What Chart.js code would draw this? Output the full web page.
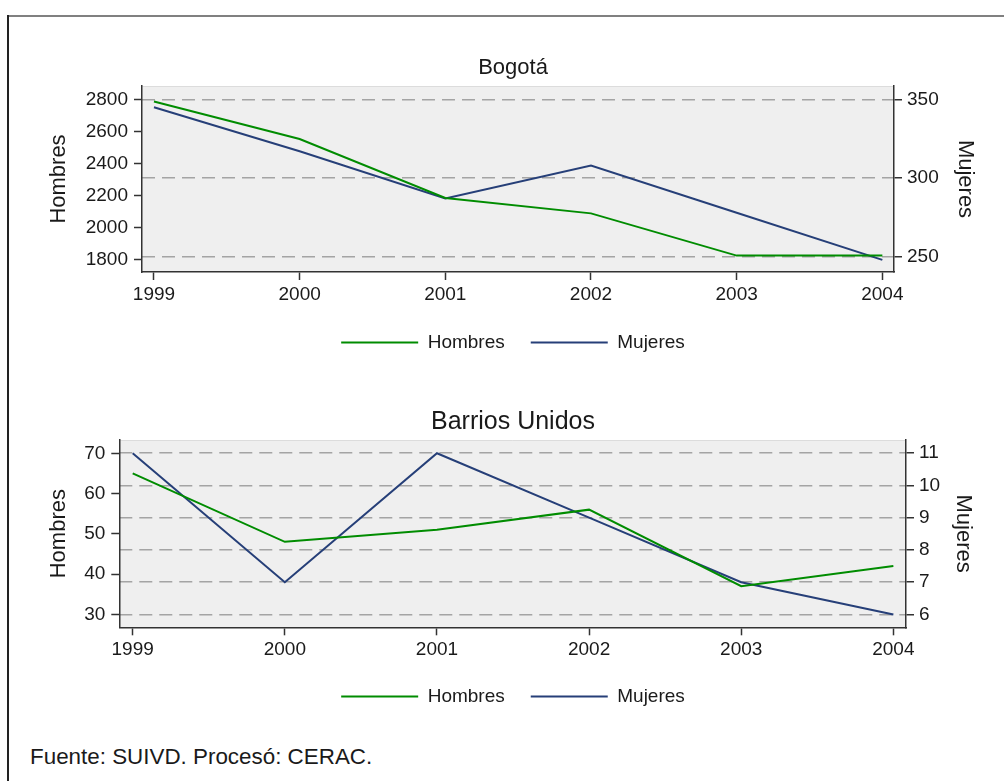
<!DOCTYPE html>
<html lang="es">
<head>
<meta charset="UTF-8">
<title>Bogotá y Barrios Unidos: Hombres y Mujeres</title>
<script src="https://cdn.jsdelivr.net/npm/chart.js"></script>
<style>
  body { margin: 0; background: #fff; width: 1004px; height: 781px; position: relative; overflow: hidden;
         font-family: 'Liberation Sans', Arial, sans-serif; }
  #frameTop { position: absolute; left: 8px; top: 15px; width: 996px; height: 2px; background: #808080; }
  #frameLeft { position: absolute; left: 7px; top: 15px; width: 2px; height: 766px; background: #222; }
  #top { position: absolute; left: 0; top: 0; }
  #bottom { position: absolute; left: 0; top: 360px; }
  #fuente { position: absolute; left: 30px; top: 744px; font-size: 22.4px; line-height: 26px; color: #1a1a1a; }
</style>
</head>
<body>
<div id="frameTop"></div>
<div id="frameLeft"></div>
<canvas id="top" width="1004" height="362"></canvas>
<canvas id="bottom" width="1004" height="356"></canvas>
<div id="fuente">Fuente: SUIVD. Procesó: CERAC.</div>

<script>
// values
const years = [1999, 2000, 2001, 2002, 2003, 2004];

const bogotaHombres = [2787, 2553, 2186, 2090, 1827, 1827];
const bogotaMujeres = [345, 317, 287, 308, 278, 248];
const bogotaHombresTicks = [1800, 2000, 2200, 2400, 2600, 2800];
const bogotaMujeresTicks = [250, 300, 350];

const barriosHombres = [65, 48, 51, 56, 37, 42];
const barriosMujeres = [11, 7, 11, 9, 7, 6];
const barriosHombresTicks = [30, 40, 50, 60, 70];
const barriosMujeresTicks = [6, 7, 8, 9, 10, 11];

const GREEN = '#008c00';
const NAVY = '#263f78';
const INK = '#1a1a1a';
const AXIS = '#333';

Chart.defaults.font.family = "'Liberation Sans', Arial, sans-serif";
Chart.defaults.color = INK;

// light grey plot region
const plotBg = {
    id: 'plotBg',
    beforeDraw(chart) {
        const {ctx, chartArea: a} = chart;
        ctx.save();
        ctx.fillStyle = '#efefef';
        ctx.fillRect(a.left, a.top, a.right - a.left, a.bottom - a.top);
        ctx.strokeStyle = '#dcdcdc';
        ctx.lineWidth = 1;
        ctx.beginPath();
        ctx.moveTo(a.left, a.top + 0.5);
        ctx.lineTo(a.right, a.top + 0.5);
        ctx.stroke();
        ctx.restore();
    }
};

function points(values) {
    return years.map((yr, i) => ({x: yr, y: values[i]}));
}

function fixedTicks(list) {
    return scale => { scale.ticks = list.map(v => ({value: v})); };
}

function makeChart(id, c) {
    const tickFont = {size: 19};
    new Chart(document.getElementById(id), {
        type: 'line',
        data: {
            datasets: [
                {label: 'Hombres', data: points(c.hombres), yAxisID: 'yL',
                 borderColor: GREEN, backgroundColor: GREEN, borderWidth: 2, pointRadius: 0, tension: 0},
                {label: 'Mujeres', data: points(c.mujeres), yAxisID: 'yR',
                 borderColor: NAVY, backgroundColor: NAVY, borderWidth: 2, pointRadius: 0, tension: 0}
            ]
        },
        options: {
            responsive: false,
            animation: false,
            layout: {padding: {left: 22, right: 0, top: 0, bottom: 0}},
            plugins: {
                title: {display: true, text: c.title, color: INK,
                        font: {size: c.titleSize, weight: 'normal'}, padding: c.titlePad},
                legend: {
                    position: 'bottom',
                    labels: {usePointStyle: true, pointStyle: 'line', pointStyleWidth: 77,
                             padding: 26, font: {size: 19}, color: INK}
                },
                tooltip: {enabled: false}
            },
            scales: {
                x: {
                    type: 'linear', min: c.xMin, max: c.xMax,
                    afterBuildTicks: fixedTicks(years),
                    afterFit: s => { s.height = c.xHeight; },
                    grid: {drawOnChartArea: false, tickLength: 8, tickColor: AXIS, tickWidth: 1.5},
                    border: {color: AXIS, width: 1.5},
                    ticks: {callback: v => String(v), padding: 3, font: tickFont, color: INK,
                            maxRotation: 0, autoSkip: false}
                },
                yL: {
                    type: 'linear', position: 'left', min: c.lMin, max: c.lMax,
                    afterBuildTicks: fixedTicks(c.lTicks),
                    afterFit: s => { s.width = c.lWidth; },
                    grid: {drawOnChartArea: false, tickLength: 8, tickColor: AXIS, tickWidth: 1.5},
                    border: {color: AXIS, width: 1.5},
                    ticks: {callback: v => String(v), padding: 6, font: tickFont, color: INK},
                    title: {display: true, text: 'Hombres', color: INK, font: {size: 22},
                            padding: {top: c.lTitlePad, bottom: 0}}
                },
                yR: {
                    type: 'linear', position: 'right', min: c.rMin, max: c.rMax,
                    afterBuildTicks: fixedTicks(c.rTicks),
                    afterFit: s => { s.width = c.rWidth; },
                    grid: {color: '#a4a4a4', lineWidth: 1.5, tickLength: 8, tickColor: AXIS,
                           tickWidth: 1.5, tickBorderDash: []},
                    border: {color: AXIS, width: 1.5, dash: [13, 7]},
                    ticks: {callback: v => String(v), padding: 5, font: tickFont, color: INK},
                    title: {display: true, text: 'Mujeres', color: INK, font: {size: 22},
                            padding: {top: c.rTitlePad, bottom: 0}}
                }
            }
        },
        plugins: [plotBg]
    });
}

makeChart('top', {
    title: 'Bogotá', titleSize: 22, titlePad: {top: 54.5, bottom: 5.1},
    hombres: bogotaHombres, mujeres: bogotaMujeres,
    xMin: 1998.918, xMax: 2004.080, xHeight: 35,
    lMin: 1725, lMax: 2883, lTicks: bogotaHombresTicks, lWidth: 120, lTitlePad: 23.8,
    rMin: 240.3, rMax: 358.5, rTicks: bogotaMujeresTicks, rWidth: 110, rTitlePad: 25.8
});

makeChart('bottom', {
    title: 'Barrios Unidos', titleSize: 25, titlePad: {top: 47, bottom: 3},
    hombres: barriosHombres, mujeres: barriosMujeres,
    xMin: 1998.912, xMax: 2004.083, xHeight: 33.7,
    lMin: 26.77, lMax: 73.3, lTicks: barriosHombresTicks, lWidth: 97.3, lTitlePad: 23.8,
    rMin: 5.6, rMax: 11.41, rTicks: barriosMujeresTicks, rWidth: 98, rTitlePad: 27.3
});
</script>
</body>
</html>
